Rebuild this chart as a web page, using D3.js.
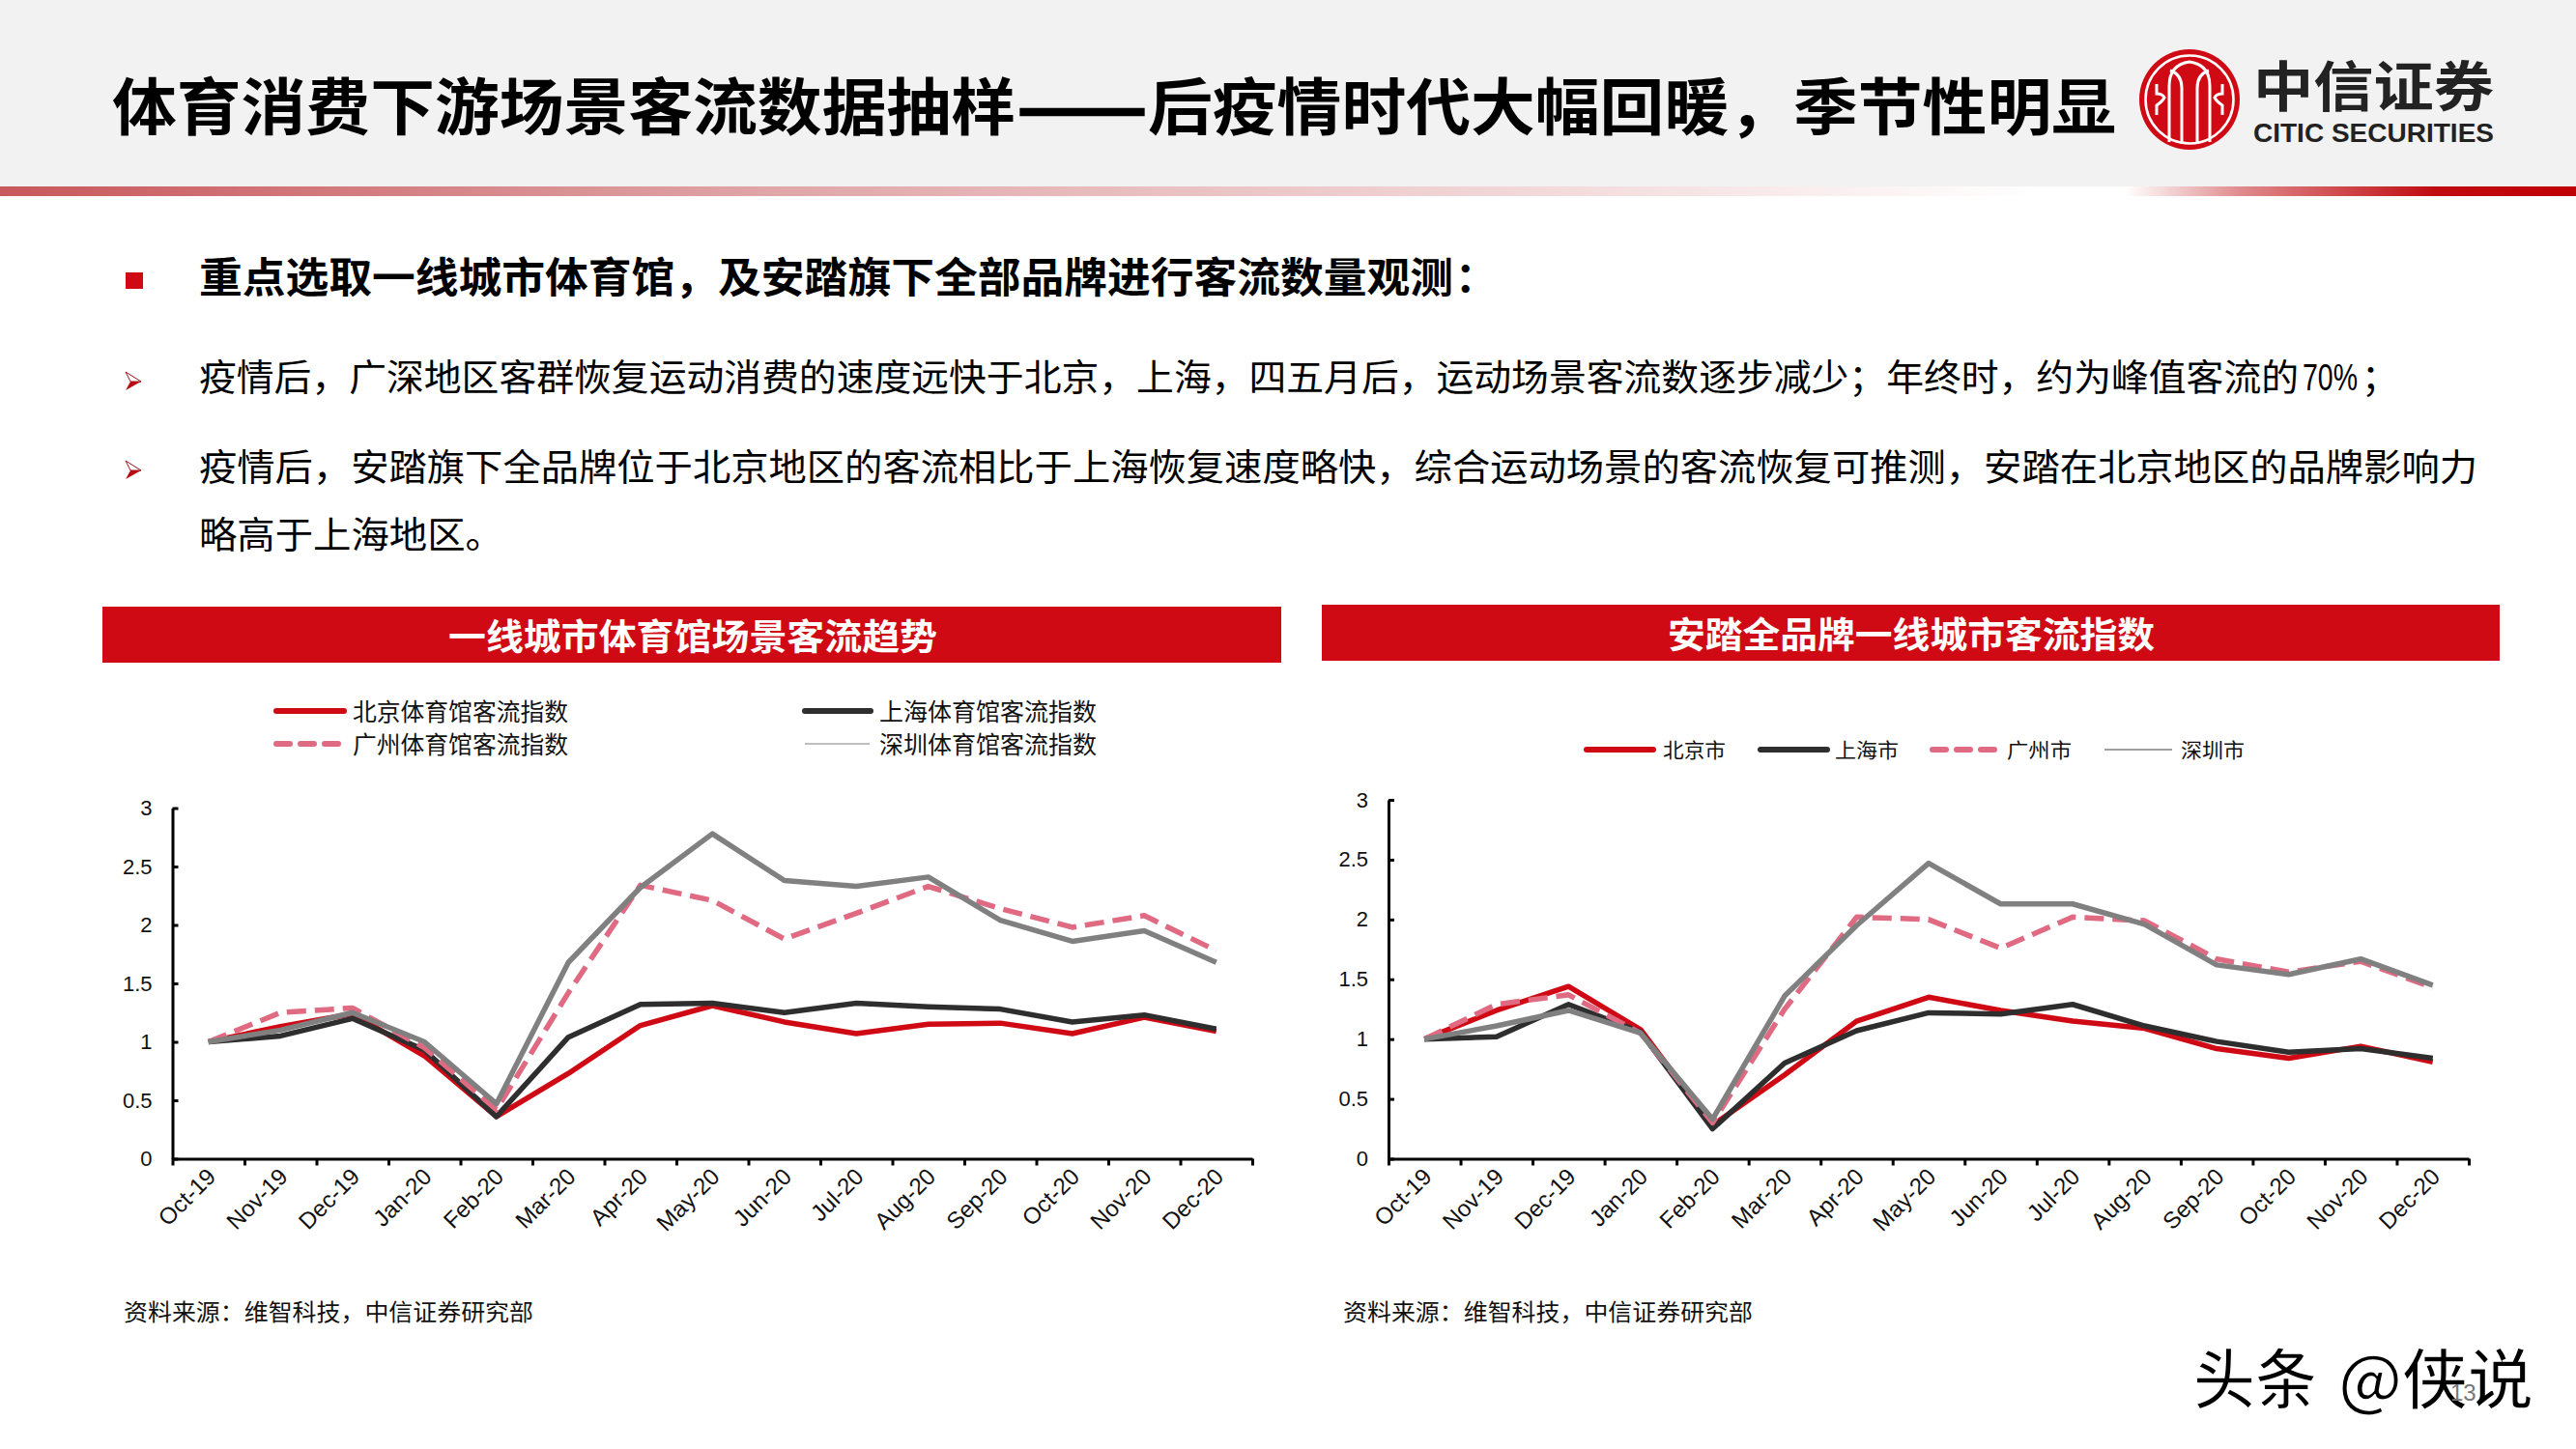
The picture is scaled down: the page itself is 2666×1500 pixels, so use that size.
<!DOCTYPE html>
<html><head><meta charset="utf-8">
<script src="https://cdn.jsdelivr.net/npm/d3@7"></script>
<style>html,body{margin:0;padding:0;background:#fff}svg{display:block}</style>
</head><body><svg id="c" width="2666" height="1500"></svg>
<script>
const months=["Oct-19","Nov-19","Dec-19","Jan-20","Feb-20","Mar-20","Apr-20","May-20","Jun-20","Jul-20","Aug-20","Sep-20","Oct-20","Nov-20","Dec-20"];
const yTicks=[0,0.5,1,1.5,2,2.5,3];
const gymBeijing=[1,1.13,1.24,0.88,0.36,0.73,1.14,1.31,1.17,1.07,1.15,1.16,1.07,1.21,1.09];
const gymShanghai=[1,1.05,1.2,0.93,0.36,1.04,1.32,1.33,1.25,1.33,1.30,1.28,1.17,1.23,1.11];
const gymGuangzhou=[1,1.25,1.29,0.95,0.42,1.42,2.34,2.21,1.88,2.1,2.33,2.14,1.98,2.08,1.78];
const gymShenzhen=[1,1.1,1.25,1.0,0.47,1.68,2.32,2.78,2.38,2.33,2.41,2.04,1.86,1.95,1.68];
const antaBeijing=[1,1.24,1.44,1.08,0.28,0.7,1.15,1.35,1.24,1.15,1.09,0.92,0.84,0.94,0.81];
const antaShanghai=[1,1.02,1.29,1.06,0.25,0.8,1.07,1.22,1.21,1.29,1.11,0.98,0.89,0.92,0.84];
const antaGuangzhou=[1,1.29,1.37,1.05,0.3,1.25,2.02,2.0,1.76,2.02,1.99,1.67,1.56,1.65,1.43];
const antaShenzhen=[1,1.11,1.24,1.05,0.33,1.36,1.95,2.47,2.13,2.13,1.96,1.62,1.54,1.67,1.45];
const gymNames=["北京体育馆客流指数","上海体育馆客流指数","广州体育馆客流指数","深圳体育馆客流指数"];
const antaNames=["北京市","上海市","广州市","深圳市"];

const RED="#cf0a14",BLACK="#2e2e2e",PINK="#df6a82",GREY="#808080";
const CJK="'Noto Sans CJK SC','Noto Sans',sans-serif",LAT="'Liberation Sans',Arial,sans-serif";
const svg=d3.select("#c");
const defs=svg.append("defs");
const g1=defs.append("linearGradient").attr("id","strip");
[[0,"#c8585c"],[0.3,"#e0a6a8"],[0.6,"#f3d9da"],[0.79,"#ffffff"],[0.825,"#ffffff"],[0.87,"#e08a8c"],[0.945,"#c00c10"],[1,"#c00000"]]
 .forEach(([o,c])=>g1.append("stop").attr("offset",o).attr("stop-color",c));

svg.append("rect").attr("width",2666).attr("height",193).attr("fill","#f2f2f2");
svg.append("rect").attr("y",193).attr("width",2666).attr("height",10).attr("fill","url(#strip)");

function T(s,x0,x1,cy,fs,opt={}){
  const t=svg.append("text").text(s).attr("x",x0).attr("y",cy).attr("dy",".38em")
   .attr("font-family",opt.font||CJK).attr("font-size",fs).attr("font-weight",opt.w||400).attr("fill",opt.fill||"#000");
  if(x1) t.attr("textLength",x1-x0).attr("lengthAdjust","spacingAndGlyphs");
  return t;
}
T("体育消费下游场景客流数据抽样",116,1051,110,64,{w:700});
T("——",1053,1187,110,64,{w:700}).attr("stroke","#000").attr("stroke-width",2.5);
T("后疫情时代大幅回暖，季节性明显",1188,2190,110,64,{w:700});

// logo
const lg=svg.append("g").attr("transform","translate(2266,103)");
lg.append("circle").attr("r",52).attr("fill",RED);
lg.append("circle").attr("r",45.5).attr("fill","none").attr("stroke","#fff").attr("stroke-width",2.6);
const arch=["M-21,44V-14Q-21,-36 0,-39Q21,-36 21,-14V44","M-8,46V-12Q-8,-26 -20,-30","M8,46V-12Q8,-26 20,-30","M-34,-16V-6Q-28,-6 -26,-2Q-28,2 -34,6V16","M34,-16V-6Q28,-6 26,-2Q28,2 34,6V16"];
lg.selectAll("path").data(arch).join("path").attr("d",d=>d).attr("fill","none").attr("stroke","#fff").attr("stroke-width",3);
T("中信证券",2332,2581,89,56,{w:700,fill:"#222"});
T("CITIC SECURITIES",2332,2581,137,27,{w:700,font:LAT,fill:"#222"}).attr("dy",".36em");

// bullets
svg.append("rect").attr("x",130).attr("y",282).attr("width",18).attr("height",17).attr("fill",RED);
[385,477].forEach(y=>{
  svg.append("path").attr("d",`M130,${y}L146,${y+10}L135,${y+10}Z`).attr("fill","#fff").attr("stroke","#a01018").attr("stroke-width",1);
  svg.append("path").attr("d",`M130,${y+19}L146,${y+10}L135,${y+10}Z`).attr("fill","#b80c14");
});
T("重点选取一线城市体育馆，及安踏旗下全部品牌进行客流数量观测",206,1504,287,43,{w:700});
T("：",1506,null,287,43,{w:700});
T("疫情后，广深地区客群恢复运动消费的速度远快于北京，上海，四五月后，运动场景客流数逐步减少；年终时，约为峰值客流的",206,2379,390,38);
T("70%",2383,2440,390,39,{font:LAT}).attr("dy",".35em");
T("；",2444,null,390,38);
T("疫情后，安踏旗下全品牌位于北京地区的客流相比于上海恢复速度略快，综合运动场景的客流恢复可推测，安踏在北京地区的品牌影响力",206,2564,483,38);
T("略高于上海地区。",206,521,553,38);

function chart(cfg){
  svg.append("rect").attr("x",cfg.bar[0]).attr("y",cfg.bar[1]).attr("width",cfg.bar[2]-cfg.bar[0]).attr("height",58).attr("fill",RED);
  T(cfg.title,cfg.titleX[0],cfg.titleX[1],cfg.bar[1]+31,37,{w:700,fill:"#fff"});
  const x=d3.scaleBand().domain(months).range(cfg.xr);
  const y=d3.scaleLinear().domain([0,3]).range(cfg.yr);
  const edge=d3.scaleLinear().domain([0,months.length]).range(cfg.xr);
  const g=svg.append("g");
  const yA=g.append("g").attr("transform",`translate(${cfg.xr[0]},0)`)
    .call(d3.axisLeft(y).tickValues(yTicks).tickFormat(d3.format("~g")).tickSize(-6).tickSizeOuter(0).tickPadding(21));
  const xE=g.append("g").attr("transform",`translate(0,${cfg.yr[0]})`)
    .call(d3.axisBottom(edge).ticks(months.length).tickFormat("").tickSize(7).tickSizeOuter(0));
  const xL=g.append("g").attr("transform",`translate(0,${cfg.yr[0]})`)
    .call(d3.axisBottom(x).tickSize(0));
  xL.select(".domain").remove();
  xL.selectAll("text").attr("x",0).attr("y",0).attr("dy",".35em").attr("text-anchor","end")
    .attr("transform","translate(3,14) rotate(-45)").attr("font-size",24).attr("font-family",LAT).attr("fill","#111");
  yA.selectAll("text").attr("font-size",22).attr("font-family",LAT).attr("fill","#111");
  [yA,xE].forEach(a=>{a.selectAll(".domain,line").attr("stroke","#000").attr("stroke-width",3);});
  const line=d3.line().x((d,i)=>x(months[i])+x.bandwidth()/2).y(d=>y(d));
  const st=[{c:RED},{c:BLACK},{c:PINK,dash:"20 9"},{c:GREY}];
  cfg.series.forEach((s,i)=>{
    g.append("path").attr("d",line(s)).attr("fill","none").attr("stroke",st[i].c).attr("stroke-width",5.5)
     .attr("stroke-linejoin","round").attr("stroke-dasharray",st[i].dash||null);
  });
  cfg.legend.forEach((l,i)=>{
    const ln=g.append("line").attr("x1",l[0]).attr("x2",l[1]).attr("y1",l[2]).attr("y2",l[2]).attr("stroke",i===3?cfg.thin:st[i].c)
      .attr("stroke-width",i===3?1.6:6).attr("stroke-linecap",i===3?"butt":"round");
    if(i===2) ln.attr("stroke-dasharray","14 11");
    T(cfg.names[i],l[3],l[4],l[2],cfg.legendFs,{fill:"#111"});
  });
  T("资料来源：维智科技，中信证券研究部",cfg.srcX,cfg.srcX+424,1358,24,{fill:"#111"});
}
chart({bar:[106,628,1326],title:"一线城市体育馆场景客流趋势",titleX:[464,970],xr:[178.5,1296],yr:[1199.5,836.5],
  series:[gymBeijing,gymShanghai,gymGuangzhou,gymShenzhen],names:gymNames,legendFs:25,srcX:128,thin:"#aaa",
  legend:[[286,356,736,365,588],[833,901,736,910,1135],[286,356,770,365,588],[833,900,770,910,1135]]});
chart({bar:[1368,626,2587],title:"安踏全品牌一线城市客流指数",titleX:[1726,2230],xr:[1437,2555],yr:[1199.5,828],
  series:[antaBeijing,antaShanghai,antaGuangzhou,antaShenzhen],names:antaNames,legendFs:21,srcX:1390,thin:"#808080",
  legend:[[1642,1711,776,1721,1786],[1822,1891,776,1899,1965],[2000,2065,776,2077,2144],[2178,2248,776,2257,2323]]});

// watermark
T("头条",2270,2398,1427,68,{w:500}).attr("stroke","#fff").attr("stroke-width",1.4);
T("@侠说",2420,2622,1427,68,{w:500}).attr("stroke","#fff").attr("stroke-width",1.4);
svg.append("text").text("13").attr("x",2536).attr("y",1450).attr("font-family",LAT).attr("font-size",24).attr("fill","#777");
</script></body></html>
